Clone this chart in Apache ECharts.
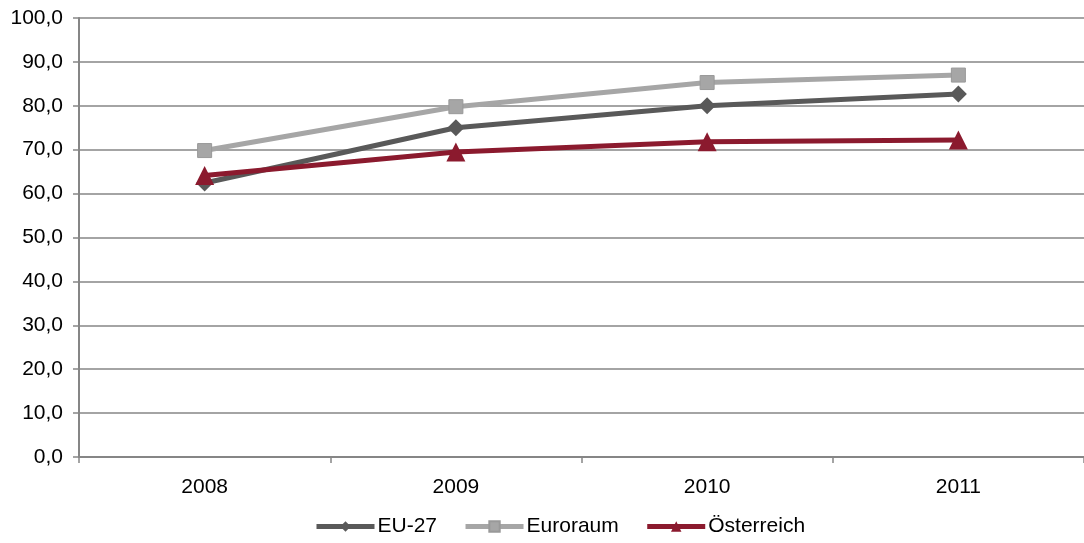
<!DOCTYPE html>
<html><head><meta charset="utf-8">
<script src="https://cdn.jsdelivr.net/npm/echarts@6/dist/echarts.min.js"></script>
<style>html,body{margin:0;padding:0;background:#fff}#c{width:1084px;height:543px}</style>
</head><body><div id="c"></div>
<script>
const categories = ['2008', '2009', '2010', '2011'];
const eu27 = [62.4, 75.0, 80.0, 82.7];
const euroraum = [69.8, 79.8, 85.3, 87.0];
const oesterreich = [64.1, 69.5, 71.8, 72.2];
const yTicks = [0, 10, 20, 30, 40, 50, 60, 70, 80, 90, 100];

const font = 'Liberation Sans, Arial, sans-serif';
const chart = echarts.init(document.getElementById('c'));
chart.setOption({
  animation: false,
  textStyle: {fontFamily: font},
  grid: {left: 79, right: -3, top: 18, bottom: 86, containLabel: false},
  legend: {
    bottom: 1, left: 309, itemWidth: 58, itemHeight: 13, itemGap: 26,
    lineStyle: {width: 5},
    textStyle: {fontSize: 21, color: '#000', fontFamily: font, padding: [0,0,0,-2]},
    data: ['EU-27', 'Euroraum', 'Österreich']
  },
  xAxis: {
    type: 'category', data: categories, boundaryGap: true,
    axisLine: {lineStyle: {color: '#868686', width: 2}},
    axisTick: {show: true, length: 6, lineStyle: {color: '#868686', width: 1.5}},
    axisLabel: {fontSize: 21, color: '#000', margin: 20, fontFamily: font},
    splitLine: {show: false}
  },
  yAxis: {
    type: 'value', min: yTicks[0], max: yTicks[yTicks.length-1], interval: 10,
    axisLine: {show: true, lineStyle: {color: '#868686', width: 2}},
    axisTick: {show: true, length: 6, lineStyle: {color: '#868686', width: 1.5}},
    axisLabel: {fontSize: 21, color: '#000', margin: 16, fontFamily: font,
      formatter: v => v.toFixed(1).replace('.', ',')},
    splitLine: {lineStyle: {color: '#868686', width: 1.5}}
  },
  series: [
    {name: 'EU-27', type: 'line', data: eu27, symbol: 'diamond', symbolSize: 17,
      lineStyle: {color: '#595959', width: 5}, itemStyle: {color: '#595959'}, z: 3},
    {name: 'Euroraum', type: 'line', data: euroraum, symbol: 'rect', symbolSize: 14,
      lineStyle: {color: '#a6a6a6', width: 5}, itemStyle: {color: '#a6a6a6', borderColor: '#999', borderWidth: 1}, z: 2},
    {name: 'Österreich', type: 'line', data: oesterreich, symbol: 'triangle', symbolSize: 19,
      lineStyle: {color: '#8b1a2e', width: 5}, itemStyle: {color: '#8b1a2e'}, z: 4}
  ]
});
</script></body></html>
